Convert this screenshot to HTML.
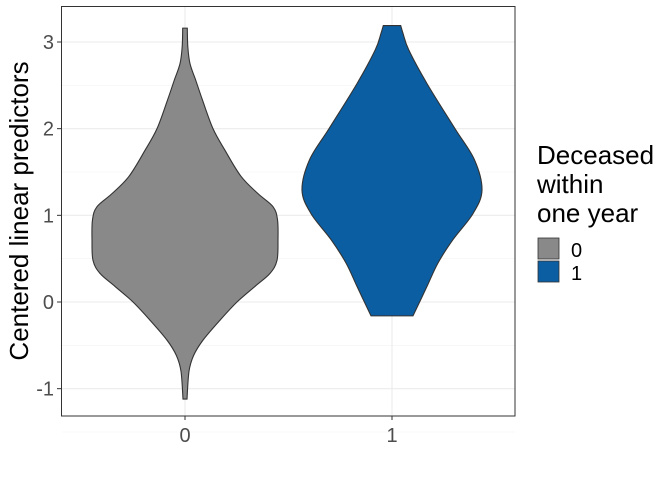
<!DOCTYPE html>
<html><head><meta charset="utf-8"><style>
body{margin:0;background:#fff;}
svg{display:block;font-family:"Liberation Sans",Arial,sans-serif;}
</style></head><body>
<svg width="672" height="480" viewBox="0 0 672 480">
<g id="grid"></g>
<g id="violins"></g>
<rect x="61.5" y="6.5" width="453.5" height="409.5" fill="none" stroke="#333" stroke-width="1"/>
<g id="axes"></g>
<text transform="translate(28,211) rotate(-90)" text-anchor="middle" font-size="26" fill="#000">Centered linear predictors</text>
<g>
<text x="537" y="164" font-size="26">Deceased</text>
<text x="537" y="193" font-size="26">within</text>
<text x="537" y="222" font-size="26">one year</text>
<rect x="538" y="238" width="21" height="21" fill="#898989" stroke="#333" stroke-width="0.8"/>
<rect x="538" y="261" width="21" height="21" fill="#0b5ea2" stroke="#333" stroke-width="0.8"/>
<text x="571" y="257" font-size="20">0</text>
<text x="571" y="280" font-size="20">1</text>
</g>
</svg>
<script>
const categories=["0","1"];
const yTicks=[-1,0,1,2,3];
const v0Values=[3.16,2.95,2.75,2.55,2.33,2.0,1.75,1.45,1.25,1.1,0.95,0.72,0.48,0.33,0.18,0,-0.21,-0.44,-0.62,-0.8,-1.12];
const v0Widths=[2.3,2.8,5,11,17.5,28,40,56,73,88,92.5,93,92,85,70,52,35,18,8.5,4,2];
const v1Values=[3.19,3.1,2.91,2.52,2.0,1.64,1.29,1.02,0.72,0.45,0.18,-0.16];
const v1Widths=[8.7,11,16.7,35,63,82.5,90,81,61,46,35,21];
const colors=["#898989","#0b5ea2"];
const NS="http://www.w3.org/2000/svg";
const yS=v=>302-86.67*v;
const xS=i=>185+207*i;
function mk(t,a,p){const e=document.createElementNS(NS,t);for(const k in a)e.setAttribute(k,a[k]);p.appendChild(e);return e;}
const grid=document.getElementById('grid'),axes=document.getElementById('axes');
for(let v=-1.5;v<=3.01;v+=0.5){
  const minor=Math.abs(v%1)>0.1;
  const l=mk('line',{x1:62,x2:515,y1:yS(v),y2:yS(v),stroke:minor?'#f2f2f2':'#ebebeb','stroke-width':minor?0.6:1.1},grid);
  
  
}
categories.forEach((c,i)=>{
  const l=mk('line',{x1:xS(i),x2:xS(i),y1:7,y2:416,stroke:'#ebebeb','stroke-width':1.1},grid);
  
  
  const t=mk('line',{x1:xS(i),x2:xS(i),y1:416,y2:420,stroke:'#333'},axes);
  
  
  const tx=mk('text',{x:xS(i),y:442,'text-anchor':'middle','font-size':20,fill:'#4d4d4d'},axes);
  tx.textContent=c;
  
  
});
yTicks.forEach(v=>{
  const t=mk('line',{x1:57,x2:61,y1:yS(v),y2:yS(v),stroke:'#333'},axes);
  
  
  const tx=mk('text',{x:54,y:yS(v)+7,'text-anchor':'end','font-size':20,fill:'#4d4d4d'},axes);
  tx.textContent=v;
  
  
});
function smooth(pts){
  let d='M'+pts[0][0]+','+pts[0][1];
  for(let i=0;i<pts.length-1;i++){
    const p0=pts[Math.max(i-1,0)],p1=pts[i],p2=pts[i+1],p3=pts[Math.min(i+2,pts.length-1)];
    const c1=[p1[0]+(p2[0]-p0[0])/6,p1[1]+(p2[1]-p0[1])/6];
    const c2=[p2[0]-(p3[0]-p1[0])/6,p2[1]-(p3[1]-p1[1])/6];
    d+=`C${c1[0]},${c1[1]} ${c2[0]},${c2[1]} ${p2[0]},${p2[1]}`;
  }
  return d;
}
const vg=document.getElementById('violins');
[[v0Values,v0Widths],[v1Values,v1Widths]].forEach(([vals,ws],i)=>{
  const cx=xS(i);
  const right=vals.map((v,k)=>[cx+ws[k],yS(v)]);
  const left=vals.map((v,k)=>[cx-ws[k],yS(v)]).reverse();
  const d=smooth(right)+'L'+left[0][0]+','+left[0][1]+smooth(left).replace(/^M[^C]*/,'')+'Z';
  const p=mk('path',{d:d,fill:colors[i],stroke:'#333','stroke-width':1.1},vg);
  
  
});
</script>
</body></html>
